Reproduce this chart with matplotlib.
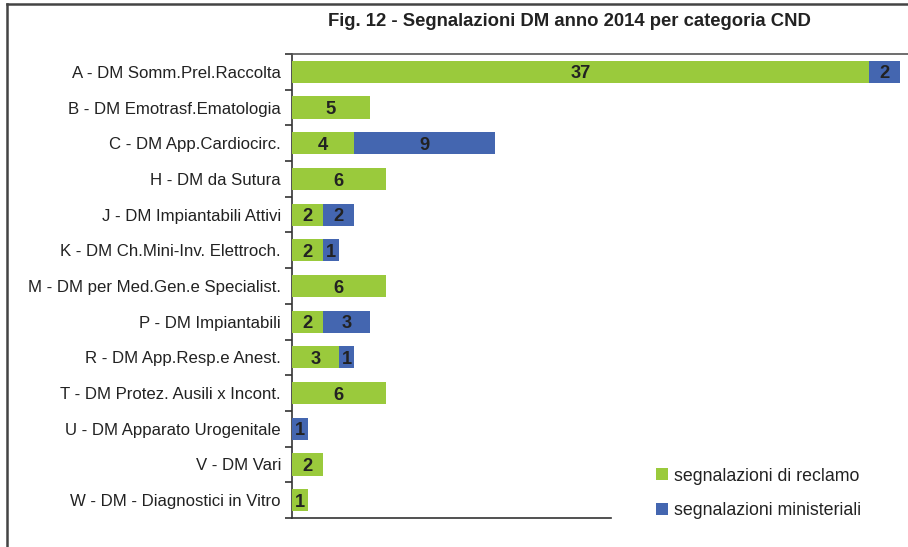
import matplotlib
matplotlib.use("Agg")
import matplotlib.pyplot as plt
from matplotlib.lines import Line2D
from matplotlib.patches import Patch
import numpy as np

plt.rcParams['font.family'] = ['Liberation Sans', 'DejaVu Sans']

categories = [
    "A - DM Somm.Prel.Raccolta",
    "B - DM Emotrasf.Ematologia",
    "C - DM App.Cardiocirc.",
    "H - DM da Sutura",
    "J - DM Impiantabili Attivi",
    "K - DM Ch.Mini-Inv. Elettroch.",
    "M - DM per Med.Gen.e Specialist.",
    "P - DM Impiantabili",
    "R - DM App.Resp.e Anest.",
    "T - DM Protez. Ausili x Incont.",
    "U - DM Apparato Urogenitale",
    "V - DM Vari",
    "W - DM - Diagnostici in Vitro",
]
reclamo = [37, 5, 4, 6, 2, 2, 6, 2, 3, 6, 0, 2, 1]
ministeriali = [2, 0, 9, 0, 2, 1, 0, 3, 1, 0, 1, 0, 0]
series_names = ["segnalazioni di reclamo", "segnalazioni ministeriali"]
title = "Fig. 12 - Segnalazioni DM anno 2014 per categoria CND"

GREEN = "#9ACA3C"
BLUE = "#4466B0"
TXT = "#222222"
AX = "#333333"

W, H = 908, 547
fig = plt.figure(figsize=(W / 100, H / 100), dpi=100)

# axes placement in pixels
x0, x1 = 292, 611
y_top, y_bot = 54, 518
ax = fig.add_axes([x0 / W, (H - y_bot) / H, (x1 - x0) / W, (y_bot - y_top) / H])

n = len(categories)
y = np.arange(n)
px_per_unit = 15.6
ax.set_xlim(0, (x1 - x0) / px_per_unit)
ax.set_ylim(n - 0.5, -0.5)

bh = 0.62
ax.barh(y, reclamo, height=bh, color=GREEN, clip_on=False, zorder=3)
ax.barh(y, ministeriali, left=reclamo, height=bh, color=BLUE, clip_on=False, zorder=3)

VFS = 13.2
def vlabel(xc, yc, s):
    ax.annotate(s, (xc, yc), xytext=(0, -0.36 * VFS), textcoords="offset points",
                ha="center", va="baseline", fontsize=VFS, fontweight="bold",
                color=TXT, annotation_clip=False, zorder=4)

for i in range(n):
    if reclamo[i] > 0:
        vlabel(reclamo[i] / 2, i, str(reclamo[i]))
    if ministeriali[i] > 0:
        vlabel(reclamo[i] + ministeriali[i] / 2, i, str(ministeriali[i]))

# spines
for s in ["top", "right"]:
    ax.spines[s].set_visible(False)
for s in ["left", "bottom"]:
    ax.spines[s].set_color(AX)
    ax.spines[s].set_linewidth(1.2)

ax.set_xticks([])
ax.set_yticks(np.arange(-0.5, n, 1.0))
ax.set_yticklabels([])
ax.tick_params(axis="y", which="major", length=5, width=1.2, color=AX, direction="out")
ax.set_yticks(y, minor=True)
ax.set_yticklabels(categories, minor=True, fontsize=12.1, color=TXT)
ax.tick_params(axis="y", which="minor", length=0, pad=8)

# top line across the chart (plot area top edge)
fig.add_artist(Line2D([x0 / W, 1.0], [(H - y_top) / H, (H - y_top) / H],
                      color="#555555", lw=1.2, transform=fig.transFigure))

# outer frame (top and left)
fig.add_artist(Line2D([7 / W, 1.0], [(H - 4) / H, (H - 4) / H],
                      color="#444444", lw=1.8, transform=fig.transFigure))
fig.add_artist(Line2D([7 / W, 7 / W], [0, (H - 4) / H],
                      color="#444444", lw=1.8, transform=fig.transFigure))

fig.text(569 / W, (H - 21) / H, title, ha="center", va="center",
         fontsize=13.3, fontweight="bold", color=TXT)

handles = [Patch(facecolor=GREEN, edgecolor="none"), Patch(facecolor=BLUE, edgecolor="none")]
fig.legend(handles, series_names, loc="upper left",
           bbox_to_anchor=(652 / W, (H - 464) / H), frameon=False,
           fontsize=12.8, handlelength=0.68, handleheight=0.68,
           handletextpad=0.35, labelspacing=1.0, borderaxespad=0, borderpad=0.2,
           labelcolor=TXT)

fig.savefig("out.png", dpi=100)
